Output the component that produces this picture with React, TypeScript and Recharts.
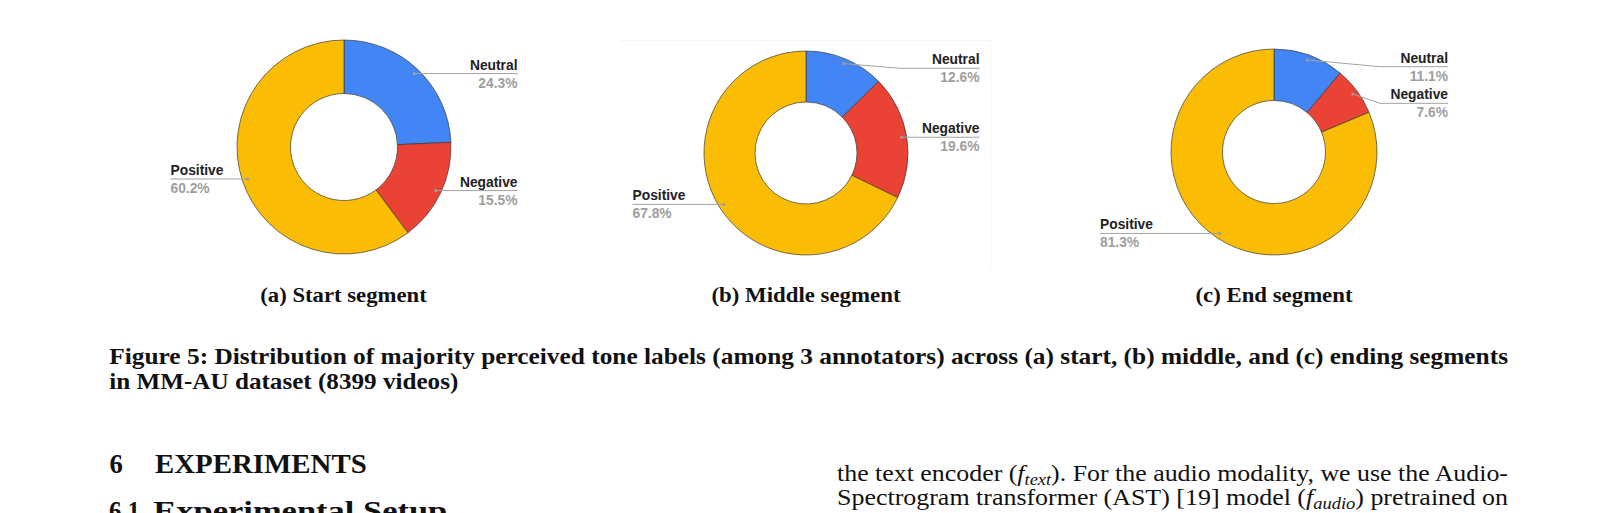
import { Cell, Pie, PieChart } from "recharts";

const toneNames = ["Neutral", "Negative", "Positive"];
const toneColors = ["#4285f4", "#ea4335", "#fbbc04"];

const startShares = [24.3, 15.5, 60.2];
const middleShares = [12.6, 19.6, 67.8];
const endShares = [11.1, 7.6, 81.3];

const segmentCaptions = ["(a) Start segment", "(b) Middle segment", "(c) End segment"];

const figureCaption = [
  "Figure 5: Distribution of majority perceived tone labels (among 3 annotators) across (a) start, (b) middle, and (c) ending segments",
  "in MM-AU dataset (8399 videos)"
];

const serif = "'Liberation Serif', 'DejaVu Serif', serif";
const sans = "'Liberation Sans', Arial, sans-serif";

type Bend = { dy: number; elbowDx: number };

interface PanelLayout {
  cx: number;
  cy: number;
  outer: number;
  inner: number;
  labelDx: number;
  captionWidth: number;
  bends: Record<string, Bend>;
}

// where each donut sits on the page and how its labels are pushed around
const panels: PanelLayout[] = [
  { cx: 343.5, cy: 147, outer: 107, inner: 53.5, labelDx: 173.5, captionWidth: 166.5, bends: {} },
  {
    cx: 806,
    cy: 153,
    outer: 102,
    inner: 51,
    labelDx: 173.5,
    captionWidth: 189,
    bends: { Neutral: { dy: -84.7, elbowDx: 94 } }
  },
  {
    cx: 1274,
    cy: 152,
    outer: 103,
    inner: 51.5,
    labelDx: 174,
    captionWidth: 157,
    bends: {
      Neutral: { dy: -85.3, elbowDx: 106 },
      Negative: { dy: -48.7, elbowDx: 106 }
    }
  }
];

const panelWidth = 460;
const panelHeight = 280;

function DonutPanel({ shares, layout }: { shares: number[]; layout: PanelLayout }) {
  const data = toneNames.map((name, i) => ({ name, value: shares[i] }));

  const renderLabel = (props: any) => {
    const { cx, cy, midAngle, outerRadius, name, value, index } = props;
    const a = (-midAngle * Math.PI) / 180;
    const rd = outerRadius * 0.95;
    const px = cx + rd * Math.cos(a);
    const py = cy + rd * Math.sin(a);
    const right = px > cx;
    const endX = right ? cx + layout.labelDx : cx - layout.labelDx;
    const bend = layout.bends[name];
    const lineY = bend ? cy + bend.dy : py;
    const points = bend
      ? `${px},${py} ${cx + bend.elbowDx},${lineY} ${endX},${lineY}`
      : `${px},${py} ${endX},${lineY}`;
    const anchor = right ? "end" : "start";
    return (
      <g key={`lbl-${index}`}>
        <polyline points={points} fill="none" stroke="#a3a3a3" strokeWidth={1} />
        <circle cx={px} cy={py} r={1.6} fill="#9e9e9e" />
        <text
          x={endX}
          y={lineY - 4}
          textAnchor={anchor}
          fontFamily={sans}
          fontWeight="bold"
          fontSize={13.8}
          fill="#222"
        >
          {name}
        </text>
        <text
          x={endX}
          y={lineY + 14}
          textAnchor={anchor}
          fontFamily={sans}
          fontWeight="bold"
          fontSize={13.8}
          fill="#9e9e9e"
        >
          {Number(value).toFixed(1)}%
        </text>
      </g>
    );
  };

  return (
    <div
      style={{
        position: "absolute",
        left: layout.cx - panelWidth / 2,
        top: 0,
        width: panelWidth,
        height: panelHeight
      }}
    >
      <PieChart width={panelWidth} height={panelHeight} margin={{ top: 0, right: 0, bottom: 0, left: 0 }}>
        <Pie
          data={data}
          dataKey="value"
          nameKey="name"
          cx={panelWidth / 2}
          cy={layout.cy}
          outerRadius={layout.outer}
          innerRadius={layout.inner}
          startAngle={90}
          endAngle={-270}
          label={renderLabel}
          labelLine={false}
          isAnimationActive={false}
        >
          {data.map((entry, i) => (
            <Cell key={entry.name} fill={toneColors[i]} stroke="#3a3a3a" strokeWidth={0.7} />
          ))}
        </Pie>
      </PieChart>
    </div>
  );
}

export default function App() {
  const seriesList = [startShares, middleShares, endShares];
  return (
    <div
      style={{
        position: "absolute",
        left: 0,
        top: 0,
        width: 1618,
        height: 513,
        background: "#fff",
        overflow: "hidden"
      }}
    >
      <svg width={1618} height={513} style={{ position: "absolute", left: 0, top: 0 }}>
        {/* faint frame of the pasted middle image */}
        <line x1={620} y1={40.5} x2={990} y2={40.5} stroke="#f5f5f5" strokeWidth={1} />
        <line x1={990.5} y1={40} x2={990.5} y2={268} stroke="#f5f5f5" strokeWidth={1} />

        {panels.map((p, i) => (
          <text
            key={segmentCaptions[i]}
            x={p.cx}
            y={301.7}
            textAnchor="middle"
            fontFamily={serif}
            fontWeight="bold"
            fontSize={20}
            textLength={p.captionWidth}
            lengthAdjust="spacingAndGlyphs"
            fill="#111"
          >
            {segmentCaptions[i]}
          </text>
        ))}

        <text
          x={109.3}
          y={364.3}
          fontFamily={serif}
          fontWeight="bold"
          fontSize={24}
          textLength={1398.7}
          lengthAdjust="spacingAndGlyphs"
          fill="#111"
        >
          {figureCaption[0]}
        </text>
        <text
          x={109.3}
          y={389.3}
          fontFamily={serif}
          fontWeight="bold"
          fontSize={24}
          textLength={349}
          lengthAdjust="spacingAndGlyphs"
          fill="#111"
        >
          {figureCaption[1]}
        </text>

        <text x={109.5} y={473.3} fontFamily={serif} fontWeight="bold" fontSize={26.7} fill="#111">
          6
        </text>
        <text
          x={155}
          y={473.3}
          fontFamily={serif}
          fontWeight="bold"
          fontSize={26.7}
          textLength={211.7}
          lengthAdjust="spacingAndGlyphs"
          fill="#111"
        >
          EXPERIMENTS
        </text>
        <text
          x={109}
          y={519.5}
          fontFamily={serif}
          fontWeight="bold"
          fontSize={26.7}
          textLength={31}
          lengthAdjust="spacingAndGlyphs"
          fill="#111"
        >
          6.1
        </text>
        <text
          x={153.3}
          y={519.5}
          fontFamily={serif}
          fontWeight="bold"
          fontSize={26.7}
          textLength={294}
          lengthAdjust="spacingAndGlyphs"
          fill="#111"
        >
          Experimental Setup
        </text>

        <text
          x={837}
          y={480.5}
          fontFamily={serif}
          fontSize={22.5}
          textLength={671}
          lengthAdjust="spacingAndGlyphs"
          fill="#111"
        >
          the text encoder (<tspan fontStyle="italic">f</tspan>
          <tspan fontStyle="italic" fontSize={16} dy={4}>
            text
          </tspan>
          <tspan dy={-4}>). For the audio modality, we use the Audio-</tspan>
        </text>
        <text
          x={837}
          y={504.5}
          fontFamily={serif}
          fontSize={22.5}
          textLength={671}
          lengthAdjust="spacingAndGlyphs"
          fill="#111"
        >
          Spectrogram transformer (AST) [19] model (<tspan fontStyle="italic">f</tspan>
          <tspan fontStyle="italic" fontSize={16} dy={4}>
            audio
          </tspan>
          <tspan dy={-4}>) pretrained on</tspan>
        </text>
      </svg>

      {panels.map((p, i) => (
        <DonutPanel key={segmentCaptions[i]} shares={seriesList[i]} layout={p} />
      ))}
    </div>
  );
}
